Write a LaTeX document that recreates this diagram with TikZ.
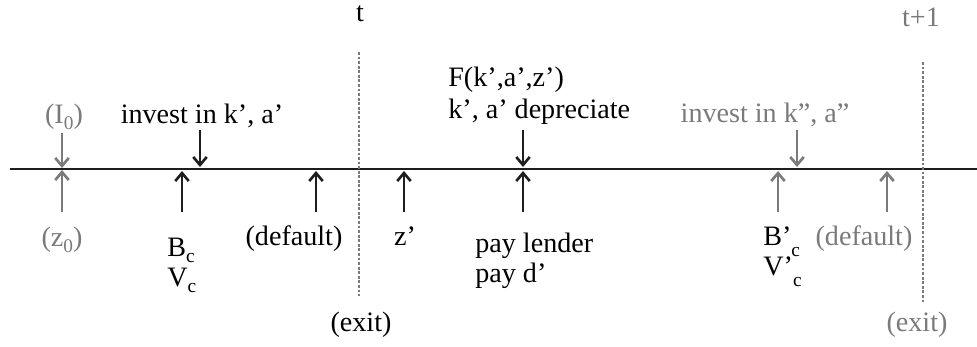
\documentclass[tikz,border=0pt]{standalone}
\usepackage{fontspec}
\setmainfont{Liberation Serif}
\usetikzlibrary{arrows.meta,positioning}
\definecolor{TlGray}{HTML}{7A7A7A}
\definecolor{TlLine}{HTML}{1E1E1E}
\newcommand{\lsub}[2][0.5ex]{\raisebox{-#1}{\fontsize{11}{11}\selectfont #2}}

\begin{document}
\begin{tikzpicture}[x=0.02cm,y=-0.02cm,
    lbl/.style={inner sep=0pt,anchor=base,font=\fontsize{16}{17}\selectfont},
    glbl/.style={lbl,text=TlGray},
    arr/.style={-{Straight Barb[length=1.6mm,width=2.7mm,line width=1.5pt]},line width=0.6pt,TlLine},
    garr/.style={arr,TlGray},
    sep/.style={TlGray,line width=0.8pt,dash pattern=on 1.6pt off 1pt}
  ]
    \useasboundingbox (0,0) rectangle (977,346);
    % time line and period boundaries
    \coordinate (tl0) at (10,169); \coordinate (tl1) at (977,169);
    \draw[line width=0.6pt,TlLine] (tl0) -- (tl1);
    \node[lbl] (t) at (360,21) {t};
    \node[glbl] (t1) at (921,26) {t+1};
    \coordinate (sepa0) at (359,52); \coordinate (sepa1) at (359,296);
    \coordinate (sepb0) at (923,62); \coordinate (sepb1) at (923,304);
    \draw[sep] (sepa0) -- (sepa1);
    \draw[sep] (sepb0) -- (sepb1);
    \node[lbl] (exit) at (361,331) {(exit)};
    \node[glbl] (exit1) at (917,331) {(exit)};
    % initial state
    \node[glbl] (i0) at (64,123) {(I\lsub{0})};
    \node[glbl] (z0) at (62,246) {(z\lsub{0})};
    \coordinate (i0a) at (62,133); \coordinate (i0b) at (62,168);
    \coordinate (z0a) at (62,212); \coordinate (z0b) at (62,170);
    \draw[garr] (i0a) -- (i0b);
    \draw[garr] (z0a) -- (z0b);
    % period t, down arrows
    \node[lbl] (inv) at (202,123) {invest in k', a'};
    \coordinate (inva) at (200,130); \coordinate (invb) at (200,167);
    \draw[arr] (inva) -- (invb);
    \node[lbl,anchor=base west] (prod) at (448,86) {F(k',a',z')};
    \node[lbl,anchor=base west] (dep) at (448,118) {k', a' depreciate};
    \coordinate (depa) at (523,130); \coordinate (depb) at (523,167);
    \draw[arr] (depa) -- (depb);
    % period t, up arrows
    \foreach \x/\n in {182/bc,316/dft,404/zp,523/pay} {
      \coordinate (\n-a) at (\x,212); \coordinate (\n-b) at (\x,171);
      \draw[arr] (\n-a) -- (\n-b);
    }
    \node[lbl,anchor=base west] (bc) at (167,256) {B\lsub{c}};
    \node[lbl,anchor=base west] (vc) at (167,286) {V\lsub{c}};
    \node[lbl] (dft) at (294,245) {(default)};
    \node[lbl] (zp) at (405,245) {z'};
    \node[lbl,anchor=base west] (pay) at (475,252) {pay lender};
    \node[lbl,anchor=base west] (payd) at (475,282) {pay d'};
    % period t+1
    \node[glbl] (inv1) at (765,122) {invest in k'', a''};
    \coordinate (inv1a) at (797,130); \coordinate (inv1b) at (797,167);
    \draw[garr] (inv1a) -- (inv1b);
    \foreach \x/\n in {778/bc1,887/dft1} {
      \coordinate (\n-a) at (\x,212); \coordinate (\n-b) at (\x,171);
      \draw[garr] (\n-a) -- (\n-b);
    }
    \node[lbl,anchor=base west] (bc1) at (763,245) {B'\lsub[0.9ex]{c}};
    \node[lbl,anchor=base west] (vc1) at (763,275) {V'\lsub[0.9ex]{c}};
    \node[glbl] (dft1) at (864,245) {(default)};
  \end{tikzpicture}
\end{document}
